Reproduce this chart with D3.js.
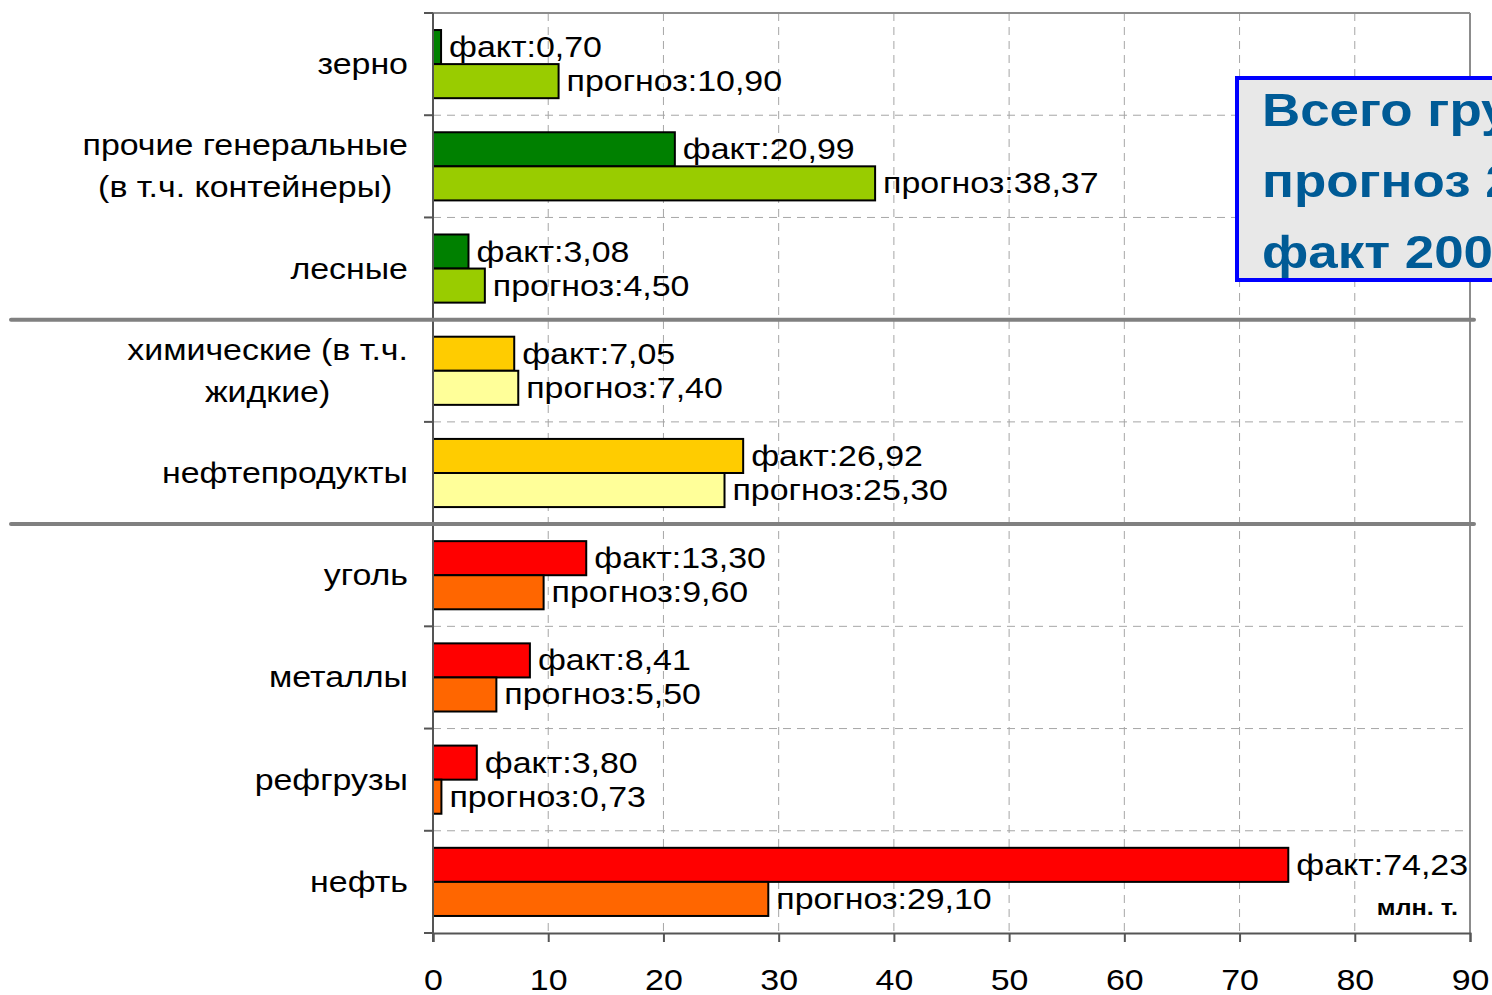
<!DOCTYPE html>
<html lang="ru">
<head>
<meta charset="UTF-8">
<script src="https://cdn.jsdelivr.net/npm/d3@7"></script>
<style>
  body { margin: 0; background: #fff; }
  svg { display: block; font-family: Arial, "Liberation Sans", sans-serif; }
</style>
</head>
<body>
<div id="chart"></div>
<script>
// данные
var categories = [
  ["зерно"],
  ["прочие генеральные", "(в т.ч. контейнеры)"],
  ["лесные"],
  ["химические (в т.ч.", "жидкие)"],
  ["нефтепродукты"],
  ["уголь"],
  ["металлы"],
  ["рефгрузы"],
  ["нефть"]
];
var fact =     [0.70, 20.99, 3.08, 7.05, 26.92, 13.30, 8.41, 3.80, 74.23];
var forecast = [10.90, 38.37, 4.50, 7.40, 25.30, 9.60, 5.50, 0.73, 29.10];
var group =    [0, 0, 0, 1, 1, 2, 2, 2, 2];
var xTicks = [0, 10, 20, 30, 40, 50, 60, 70, 80, 90];
var separators = [3, 5]; // после какой строки
var boxLines = ["Всего грузов", "прогноз 2010 – 131,4", "факт 2008 – 158,5"];

var factColors = ['#008000', '#ffcc00', '#ff0000'];
var forecastColors = ['#99cc00', '#ffff99', '#ff6600'];

var W = 1492, H = 995;
var pLeft = 433, pRight = 1470, pTop = 13, pBottom = 933;
var SX = 1.15;   // картинка растянута по горизонтали
var FS = 29.5;

var svg = d3.select('#chart').append('svg').attr('width', W).attr('height', H);

var x = d3.scaleLinear().domain([0, 90]).range([pLeft, pRight]);
var y = d3.scaleBand().domain(d3.range(categories.length)).range([pTop, pBottom]);
var inner = d3.scaleBand().domain(['f', 'p']).range([0, y.bandwidth()]).paddingOuter(0.5);

var fmt = function(v) { return v.toFixed(2).replace('.', ','); };
var place = function(px, py) { return 'translate(' + px + ',' + py + ') scale(' + SX + ',1)'; };

// сетка
svg.append('g').selectAll('line').data(xTicks.slice(1, -1)).enter().append('line')
  .attr('x1', d => x(d)).attr('x2', d => x(d)).attr('y1', pTop).attr('y2', pBottom)
  .attr('stroke', '#a6a6a6').attr('stroke-dasharray', '8,6');
svg.append('g').selectAll('line').data(d3.range(1, categories.length)).enter().append('line')
  .attr('x1', pLeft).attr('x2', pRight).attr('y1', d => y(d)).attr('y2', d => y(d))
  .attr('stroke', '#a6a6a6').attr('stroke-dasharray', '8,6');

// рамка
svg.append('line').attr('x1', pLeft).attr('x2', pRight).attr('y1', pTop).attr('y2', pTop).attr('stroke', '#8c8c8c').attr('stroke-width', 2);
svg.append('line').attr('x1', pRight).attr('x2', pRight).attr('y1', pTop).attr('y2', pBottom).attr('stroke', '#8c8c8c').attr('stroke-width', 2);

// бары
var rows = svg.append('g').selectAll('g').data(categories).enter().append('g')
  .attr('transform', (d, i) => 'translate(0,' + y(i) + ')');

rows.append('rect')
  .attr('x', pLeft).attr('y', inner('f'))
  .attr('width', (d, i) => x(fact[i]) - pLeft).attr('height', inner.bandwidth())
  .attr('fill', (d, i) => factColors[group[i]])
  .attr('stroke', '#000').attr('stroke-width', 2);
rows.append('rect')
  .attr('x', pLeft).attr('y', inner('p'))
  .attr('width', (d, i) => x(forecast[i]) - pLeft).attr('height', inner.bandwidth())
  .attr('fill', (d, i) => forecastColors[group[i]])
  .attr('stroke', '#000').attr('stroke-width', 2);

rows.append('text')
  .attr('transform', (d, i) => place(x(fact[i]) + 8, inner('f') + inner.bandwidth() / 2 + 10))
  .attr('font-size', FS).text((d, i) => 'факт:' + fmt(fact[i]));
rows.append('text')
  .attr('transform', (d, i) => place(x(forecast[i]) + 8, inner('p') + inner.bandwidth() / 2 + 10))
  .attr('font-size', FS).text((d, i) => 'прогноз:' + fmt(forecast[i]));

// подписи категорий
rows.each(function(d, i) {
  var g = d3.select(this);
  var lh = 42;
  var t = g.append('text').attr('font-size', FS).attr('text-anchor', 'middle');
  d.forEach(function(line, k) {
    t.append('tspan').attr('x', 0).attr('y', (k - (d.length - 1) / 2) * lh).text(line);
  });
  var w = d3.max(t.selectAll('tspan').nodes(), n => n.getComputedTextLength()) * SX;
  t.attr('transform', place(408 - w / 2, y.bandwidth() / 2 + 10));
});

// оси
var xAxis = svg.append('g').attr('transform', 'translate(0,' + pBottom + ')')
  .call(d3.axisBottom(x).tickValues(xTicks).tickSize(9).tickPadding(27));
xAxis.select('.domain').attr('stroke', '#555').attr('stroke-width', 2);
xAxis.selectAll('.tick line').attr('stroke', '#555').attr('stroke-width', 2);
xAxis.selectAll('text').attr('font-size', FS).attr('font-family', 'Arial, "Liberation Sans"')
  .attr('fill', '#000').attr('transform', 'scale(' + SX + ',1)');

var yAxis = svg.append('g');
yAxis.append('line').attr('x1', pLeft).attr('x2', pLeft).attr('y1', pTop).attr('y2', pBottom + 9).attr('stroke', '#555').attr('stroke-width', 2);
yAxis.selectAll('line.t').data(d3.range(categories.length + 1)).enter().append('line')
  .attr('x1', pLeft - 9).attr('x2', pLeft)
  .attr('y1', d => d < categories.length ? y(d) : pBottom).attr('y2', d => d < categories.length ? y(d) : pBottom)
  .attr('stroke', '#555').attr('stroke-width', 2);

// разделители групп
svg.append('g').selectAll('line').data(separators).enter().append('line')
  .attr('x1', 11).attr('x2', 1474).attr('y1', d => y(d)).attr('y2', d => y(d))
  .attr('stroke', '#808080').attr('stroke-width', 4).attr('stroke-linecap', 'round');

// единицы
svg.append('text').attr('transform', place(1458, 915)).attr('text-anchor', 'end')
  .attr('font-size', 22).attr('font-weight', 'bold').text('млн. т.');

// итоговая плашка
var box = svg.append('g');
box.append('rect').attr('x', 1237).attr('y', 78).attr('width', 300).attr('height', 202)
  .attr('fill', '#e8e8e8').attr('stroke', '#0000ff').attr('stroke-width', 4);
box.selectAll('text').data(boxLines).enter().append('text')
  .attr('transform', (d, i) => place(1262, 126 + i * 71))
  .attr('font-size', 46).attr('font-weight', 'bold').attr('fill', '#005b96').text(d => d);
</script>
</body>
</html>
